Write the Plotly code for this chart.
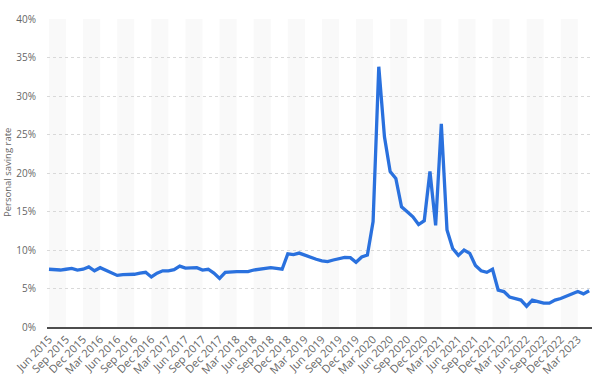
import plotly.graph_objects as go
import pandas as pd

# Monthly categories: Jun 2015 .. May 2023
months = [d.strftime("%b %Y") for d in pd.date_range("2015-06-01", "2023-05-01", freq="MS")]

# Personal saving rate (%)
saving_rate = [
    7.5, 7.4, 7.4, 7.5, 7.6, 7.4, 7.5, 7.8, 7.3, 7.7,   # Jun15-Mar16
    7.35, 7.0, 6.7, 6.8, 6.8, 6.85, 7.0, 7.1, 6.5, 7.0,  # Apr16-Jan17
    7.3, 7.3, 7.45, 7.9, 7.65, 7.7, 7.7, 7.4, 7.5, 7.0,  # Feb17-Nov17
    6.3, 7.1, 7.2, 7.2, 7.2, 7.2, 7.4, 7.5, 7.6, 7.7,    # Dec17-Sep18
    7.6, 7.5, 9.5, 9.4, 9.6, 9.3, 9.05, 8.8, 8.6, 8.5,   # Oct18-Jul19
    8.7, 8.9, 9.05, 9.0, 8.4, 9.1, 9.35, 13.7, 33.8, 24.7,  # Aug19-May20
    20.2, 19.3, 15.6, 14.97, 14.3, 13.3, 13.8, 20.2, 13.2, 26.4,  # Jun20-Mar21
    12.6, 10.2, 9.3, 10.0, 9.57, 8.0, 7.3, 7.1, 7.5, 4.8,  # Apr21-Jan22
    4.6, 3.9, 3.7, 3.5, 2.7, 3.5, 3.3, 3.1, 3.1, 3.5,    # Feb22-Nov22
    3.7, 4.0, 4.3, 4.6, 4.3, 4.7,                        # Dec22-May23
]

y_ticks = [0, 5, 10, 15, 20, 25, 30, 35, 40]
y_tick_labels = [f"{v}%" for v in y_ticks]
y_title = "Personal saving rate"

x_idx = list(range(len(months)))
tick_idx = x_idx[::3]
tick_text = [months[i] for i in tick_idx]

fig = go.Figure()
fig.add_trace(go.Scatter(
    x=x_idx, y=saving_rate, mode="lines",
    line=dict(color="#2a71de", width=3.3),
    hoverinfo="skip",
))

# alternating background bands (every other tick interval)
shapes = []
for k in range(0, len(tick_idx), 2):
    x0 = tick_idx[k]
    x1 = x0 + 3
    shapes.append(dict(type="rect", xref="x", yref="paper", x0=x0, x1=x1, y0=0, y1=1,
                       fillcolor="#f9f9f9", line=dict(width=0), layer="below"))

fig.update_layout(
    width=602, height=383,
    margin=dict(l=47, r=10, t=19, b=56),
    paper_bgcolor="white", plot_bgcolor="white",
    showlegend=False,
    hovermode=False,
    shapes=shapes,
    font=dict(family="Open Sans, Arial, sans-serif", color="#666666", size=10),
    xaxis=dict(
        range=[-0.35, 95.5], automargin=False,
        tickmode="array", tickvals=tick_idx, ticktext=tick_text,
        tickangle=-45, tickfont=dict(size=11, color="#666666"),
        showgrid=False, zeroline=False,
        showline=True, linecolor="#4d4d4d", linewidth=1.5,
        ticks="",
    ),
    yaxis=dict(
        range=[0, 40], automargin=False,
        tickmode="array", tickvals=y_ticks, ticktext=y_tick_labels,
        tickfont=dict(size=10, color="#666666"),
        showgrid=True, gridcolor="#d9d9d9", griddash="dot", gridwidth=1,
        zeroline=False, ticks="", ticklabelstandoff=10,
    ),
    annotations=[dict(
        text=y_title, textangle=-90, xref="paper", yref="paper",
        x=0, y=0.5, xanchor="center", yanchor="middle", xshift=-40,
        showarrow=False, font=dict(size=9.5, color="#666666"),
    )],
)

fig.write_html("out.html", config={"displayModeBar": False},
               post_script="document.body.style.margin='0';")
